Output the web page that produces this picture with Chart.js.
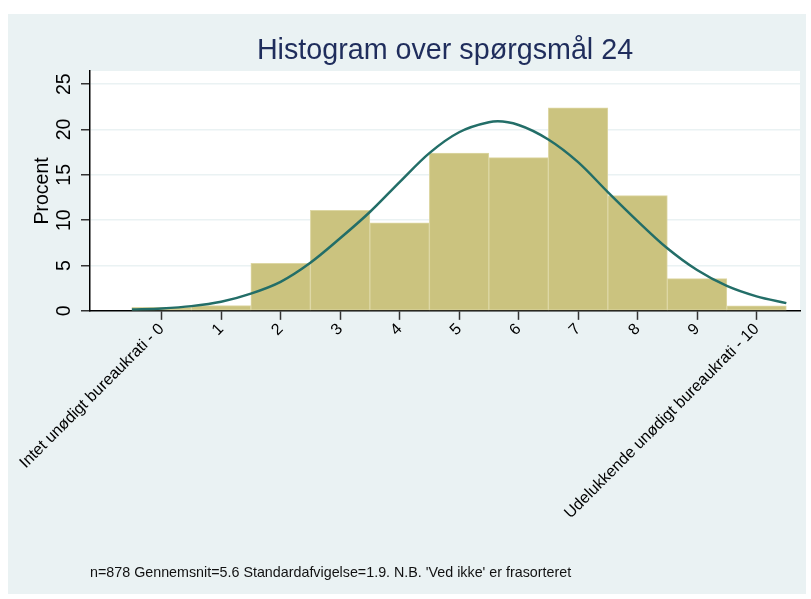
<!DOCTYPE html>
<html><head><meta charset="utf-8">
<script src="https://cdn.jsdelivr.net/npm/chart.js@4/dist/chart.umd.min.js"></script>
<style>html,body{margin:0;padding:0;background:#fff;}canvas{display:block;}</style>
</head><body>
<canvas id="c" width="811" height="599"></canvas>
<script>
// ---- data ----
const binCenters = [0, 1, 2, 3, 4, 5, 6, 7, 8, 9, 10];
const percentValues = [0.4, 0.58, 5.25, 11.1, 9.7, 17.4, 16.9, 22.4, 12.7, 3.56, 0.55];
const curveX = [-0.5, 0, 0.5, 1, 1.5, 2, 2.5, 3, 3.5, 4, 4.5, 5, 5.5, 5.65, 6, 6.5, 7, 7.5, 8, 8.5, 9, 9.5, 10, 10.5];
const curveY = [0.15, 0.27, 0.52, 1.0, 1.9, 3.2, 5.3, 8.0, 10.9, 14.2, 17.4, 19.7, 20.8, 20.9, 20.5, 18.9, 16.4, 13.1, 9.9, 6.9, 4.5, 2.75, 1.6, 0.85];
const xTickValues = [0, 1, 2, 3, 4, 5, 6, 7, 8, 9, 10];
const xTickLabels = ['Intet unødigt bureaukrati - 0', '1', '2', '3', '4', '5', '6', '7', '8', '9', 'Udelukkende unødigt bureaukrati - 10'];
const yTickValues = [0, 5, 10, 15, 20, 25];
const titleText = 'Histogram over spørgsmål 24';
const yAxisTitle = 'Procent';
const noteText = "n=878 Gennemsnit=5.6 Standardafvigelse=1.9. N.B. 'Ved ikke' er frasorteret";

// ---- styling ----
const FONT = "'Liberation Sans', Arial, Helvetica, sans-serif";
const BG = '#eaf2f3';
Chart.defaults.font.family = FONT;
Chart.defaults.color = '#000';

const bgPlugin = {
  id: 'bg',
  beforeDraw(chart) {
    const {ctx, chartArea: a} = chart;
    ctx.save();
    ctx.fillStyle = '#ffffff';
    ctx.fillRect(0, 0, chart.width, chart.height);
    ctx.fillStyle = BG;
    ctx.fillRect(8, 14, 798, 580);
    ctx.fillStyle = '#ffffff';
    ctx.fillRect(a.left, a.top, a.right - a.left, a.bottom - a.top);
    ctx.restore();
  }
};

const barData = binCenters.map((x, i) => ({x: x, y: percentValues[i]}));
const lineData = curveX.map((x, i) => ({x: x, y: curveY[i]}));

new Chart(document.getElementById('c'), {
  type: 'bar',
  data: {
    datasets: [
      {
        type: 'line',
        data: lineData,
        borderColor: '#236e68',
        borderWidth: 2.5,
        pointRadius: 0,
        cubicInterpolationMode: 'monotone',
        fill: false,
        order: 1
      },
      {
        type: 'bar',
        data: barData,
        backgroundColor: '#cbc37f',
        borderColor: '#ddd7a4',
        borderWidth: 1,
        borderSkipped: false,
        barPercentage: 1,
        categoryPercentage: 1,
        order: 2
      }
    ]
  },
  options: {
    responsive: false,
    animation: false,
    devicePixelRatio: 1,
    events: [],
    layout: {autoPadding: false, padding: {left: 8, right: 11, top: 8, bottom: 8}},
    plugins: {
      legend: {display: false},
      tooltip: {enabled: false},
      title: {
        display: true,
        text: titleText,
        fullSize: false,
        color: '#1f2d5c',
        font: {size: 28.7, weight: 'normal', lineHeight: 1.2},
        padding: {top: 26.3, bottom: 2.3}
      },
      subtitle: {
        display: true,
        text: noteText,
        position: 'bottom',
        align: 'start',
        fullSize: false,
        color: '#111',
        font: {size: 14.3, weight: 'normal', lineHeight: 1.2},
        padding: {top: 0, bottom: 9.4}
      }
    },
    scales: {
      x: {
        type: 'linear',
        offset: false,
        min: -1.204,
        max: 10.73,
        afterBuildTicks: s => { s.ticks = xTickValues.map(v => ({value: v})); },
        afterFit: s => { s.height = 253.6; s.paddingLeft = 0; s.paddingRight = 0; },
        ticks: {
          autoSkip: false,
          minRotation: 45,
          maxRotation: 45,
          padding: 0,
          color: '#000',
          font: {size: 16},
          callback: (v) => { const i = xTickValues.indexOf(v); return i >= 0 ? xTickLabels[i] : ''; }
        },
        grid: {display: true, offset: false, drawOnChartArea: false, drawTicks: true, tickLength: 9, tickColor: '#333', tickWidth: 1.5},
        border: {display: true, color: '#000', width: 1.5}
      },
      y: {
        type: 'linear',
        min: 0,
        max: 26.45,
        afterBuildTicks: s => { s.ticks = yTickValues.map(v => ({value: v})); },
        afterFit: s => { s.width = 82; s.paddingTop = 0; s.paddingBottom = 0; },
        ticks: {
          autoSkip: false,
          minRotation: 90,
          maxRotation: 90,
          crossAlign: 'center',
          padding: 5.2,
          color: '#000',
          font: {size: 19.5}
        },
        grid: {
          display: true,
          drawOnChartArea: true,
          drawTicks: true,
          tickLength: 9,
          tickColor: '#333',
          tickWidth: 1.5,
          lineWidth: 1.5,
          color: c => (c.tick && c.tick.value === 0) ? 'rgba(0,0,0,0)' : BG
        },
        border: {display: true, color: '#000', width: 1.5},
        title: {
          display: true,
          text: yAxisTitle,
          color: '#000',
          font: {size: 19.5, lineHeight: 1.2},
          padding: {top: 22.5, bottom: 0}
        }
      }
    }
  },
  plugins: [bgPlugin]
});
</script>
</body></html>
